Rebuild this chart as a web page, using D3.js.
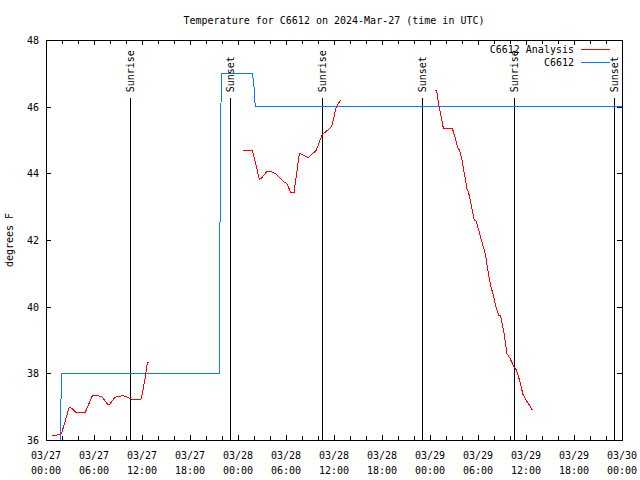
<!DOCTYPE html>
<html>
<head>
<meta charset="utf-8">
<script src="https://cdn.jsdelivr.net/npm/d3@7"></script>
<style>
  html, body { margin: 0; padding: 0; background: #fff; }
  svg text { font-family: "DejaVu Sans Mono", monospace; font-size: 10px; fill: #000; }
</style>
</head>
<body>
<svg id="chart" width="640" height="480"></svg>
<script>
// ---- Data (hours since 2024-03-27 00:00 UTC) ----
const chartTitle = "Temperature for C6612 on 2024-Mar-27 (time in UTC)";
const yLabel = "degrees F";
const seriesNames = ["C6612 Analysis", "C6612"];

// Analysis series (null = gap)
const analysisHours = [
  0.8, 1.25, 1.7, 1.95, 2.9, 3.2, 3.75, 4.9, 5.8, 6.4, 7.0, 7.7, 8.0, 8.6, 9.6, 10.0, 10.5, 10.9, 11.9, 12.4, 12.67, 12.9,
  null,
  24.67, 25.8, 26.1, 26.67, 26.9, 27.67, 28.2, 28.8, 29.67, 30.1, 30.6, 31.0, 31.67, 32.17, 32.8, 33.8, 34.5, 35.7, 36.3, 36.8,
  null,
  48.7, 48.85, 49.1, 49.4, 49.67, 50.8, 51.1, 51.5, 51.7, 52.0, 52.4, 52.6, 52.8, 53.2, 53.5, 53.8, 54.25, 54.9, 55.3, 55.6,
  55.8, 56.3, 56.6, 56.8, 57.3, 57.6, 58.0, 58.5, 58.8, 59.25, 59.6, 59.96, 60.8
];
const analysisTemps = [
  36.12, 36.14, 36.17, 36.2, 36.98, 36.95, 36.83, 36.83, 37.33, 37.33, 37.3, 37.07, 37.08, 37.28, 37.33, 37.3, 37.24, 37.21, 37.23, 37.85, 38.33, 38.33,
  null,
  44.69, 44.67, 44.4, 43.82, 43.85, 44.07, 44.05, 43.97, 43.75, 43.7, 43.42, 43.42, 44.6, 44.55, 44.47, 44.7, 45.15, 45.4, 46.0, 46.19,
  null,
  46.5, 46.45, 46.05, 45.7, 45.35, 45.35, 45.1, 44.75, 44.7, 44.4, 43.85, 43.55, 43.45, 43.0, 42.62, 42.55, 42.15, 41.6, 41.0, 40.6,
  40.45, 39.95, 39.75, 39.75, 39.15, 38.6, 38.45, 38.2, 38.1, 37.75, 37.38, 37.22, 36.9
];

// Observation series
const obsHours = [1.83, 1.85, 1.97, 21.63, 21.66, 21.84, 21.9, 25.85, 25.9, 26.05, 26.15, 72];
const obsTemps = [36.0, 37.0, 38.0, 38.0, 40.3, 44.7, 47.0, 47.0, 46.75, 46.5, 46.0, 46.0];

// Sunrise / sunset markers
const sunriseHours = [10.62, 34.6, 58.6];
const sunsetHours = [23.05, 47.0, 71.0];
const markerTop = 46.25;

// Axis ticks
const yTicks = [36, 38, 40, 42, 44, 46, 48];
const xMajorTickHours = [0, 6, 12, 18, 24, 30, 36, 42, 48, 54, 60, 66, 72];
const xMinorTickHours = [2, 4, 8, 10, 14, 16, 20, 22, 26, 28, 32, 34, 38, 40, 44, 46, 50, 52, 56, 58, 62, 64, 68, 70];

// ---- Drawing ----
const t0 = Date.UTC(2024, 2, 27, 0, 0);
const toDate = h => new Date(t0 + h * 3600e3);

const svg = d3.select("#chart");
const plotLeft = 46, plotRight = 622, plotTop = 40, plotBottom = 440;

const x = d3.scaleUtc().domain([toDate(0), toDate(72)]).range([plotLeft, plotRight]);
const y = d3.scaleLinear().domain([36, 48]).range([plotBottom, plotTop]);

const g = svg.append("g").attr("shape-rendering", "crispEdges");

// Title
svg.append("text").attr("x", 334).attr("y", 24).attr("text-anchor", "middle").text(chartTitle);
// Y label
svg.append("text").attr("transform", "translate(13,240) rotate(-90)").attr("text-anchor", "middle").text(yLabel);

// Axes (ticks inward, mirrored)
const fmtDay = d3.utcFormat("%m/%d"), fmtTime = d3.utcFormat("%H:%M");
const xBottom = d3.axisBottom(x).tickValues(xMajorTickHours.map(toDate)).tickSize(-5).tickFormat("");
const xTop = d3.axisTop(x).tickValues(xMajorTickHours.map(toDate)).tickSize(-5).tickFormat("");
const xBottomMinor = d3.axisBottom(x).tickValues(xMinorTickHours.map(toDate)).tickSize(-4).tickFormat("");
const xTopMinor = d3.axisTop(x).tickValues(xMinorTickHours.map(toDate)).tickSize(-4).tickFormat("");
const yLeft = d3.axisLeft(y).tickValues(yTicks).tickSize(-5).tickFormat("");
const yRight = d3.axisRight(y).tickValues(yTicks).tickSize(-5).tickFormat("");

[[xBottom, `translate(0,${plotBottom})`], [xTop, `translate(0,${plotTop})`],
 [xBottomMinor, `translate(0,${plotBottom})`], [xTopMinor, `translate(0,${plotTop})`],
 [yLeft, `translate(${plotLeft},0)`], [yRight, `translate(${plotRight},0)`]].forEach(([ax, tr]) => {
  const a = g.append("g").attr("transform", tr).call(ax);
  a.select(".domain").remove();
  a.selectAll("line").attr("stroke", "#000");
});

// Frame
g.append("rect").attr("x", plotLeft).attr("y", plotTop).attr("width", plotRight - plotLeft).attr("height", plotBottom - plotTop)
  .attr("fill", "none").attr("stroke", "#000");

// Y tick labels
svg.append("g").selectAll("text").data(yTicks).join("text")
  .attr("x", 39).attr("y", d => y(d) + 4).attr("text-anchor", "end").text(d => d);

// X tick labels
const xl = svg.append("g").selectAll("g").data(xMajorTickHours).join("g")
  .attr("transform", d => `translate(${x(toDate(d))},0)`);
xl.append("text").attr("y", 459).attr("text-anchor", "middle").text(d => fmtDay(toDate(d)));
xl.append("text").attr("y", 474).attr("text-anchor", "middle").text(d => fmtTime(toDate(d)));

// Sunrise / sunset lines
const markers = sunriseHours.map(h => ({h, label: "Sunrise"})).concat(sunsetHours.map(h => ({h, label: "Sunset"})));
g.append("g").selectAll("line").data(markers).join("line")
  .attr("x1", d => x(toDate(d.h))).attr("x2", d => x(toDate(d.h)))
  .attr("y1", y(36)).attr("y2", y(markerTop)).attr("stroke", "#000");
svg.append("g").selectAll("text").data(markers).join("text")
  .attr("transform", d => `translate(${x(toDate(d.h))},${y(markerTop) - 6}) rotate(-90)`)
  .attr("dy", "0.35em").attr("text-anchor", "start").text(d => d.label);

// Data lines
svg.append("clipPath").attr("id", "clip").append("rect")
  .attr("x", plotLeft).attr("y", plotTop).attr("width", plotRight - plotLeft).attr("height", plotBottom - plotTop);

const analysisData = analysisHours.map((h, i) => ({h, v: analysisTemps[i]}));
const obsData = obsHours.map((h, i) => ({h, v: obsTemps[i]}));
const line = d3.line().defined(d => d.h != null && d.v != null)
  .x(d => x(toDate(d.h))).y(d => y(d.v));

g.append("path").datum(obsData).attr("d", line).attr("fill", "none")
  .attr("stroke", "#0080ff").attr("stroke-width", 1).attr("clip-path", "url(#clip)");
g.append("path").datum(analysisData).attr("d", line).attr("fill", "none")
  .attr("stroke", "#ff0000").attr("stroke-width", 1).attr("clip-path", "url(#clip)");

// Legend
const legendColors = ["#ff0000", "#0080ff"];
const lg = svg.append("g").selectAll("g").data(seriesNames).join("g")
  .attr("transform", (d, i) => `translate(0,${49.5 + i * 13})`);
lg.append("text").attr("x", 574).attr("y", 3.5).attr("text-anchor", "end").text(d => d);
lg.append("line").attr("x1", 581).attr("x2", 610).attr("y1", 0).attr("y2", 0)
  .attr("stroke", (d, i) => legendColors[i]).attr("shape-rendering", "crispEdges");
</script>
</body>
</html>
